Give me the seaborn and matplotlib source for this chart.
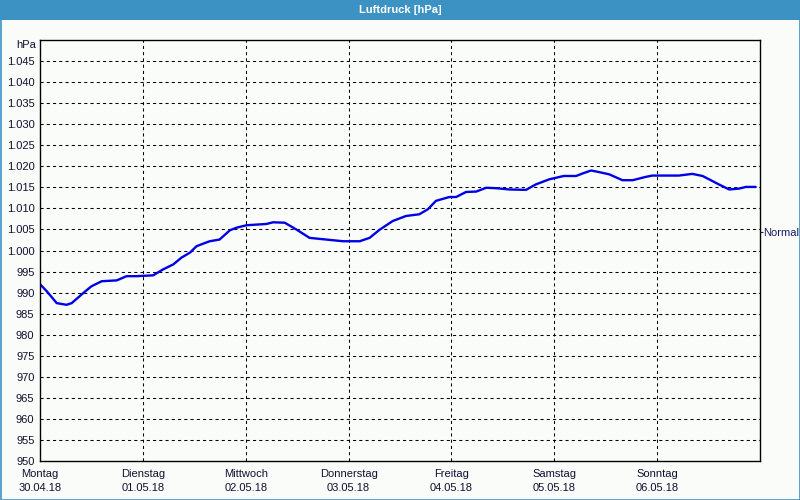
import matplotlib
matplotlib.use("Agg")
import matplotlib.pyplot as plt
import matplotlib.patches as mpatches
import seaborn as sns
import pandas as pd
import numpy as np

# ---- data ----
title = "Luftdruck [hPa]"
day_names = ["Montag", "Dienstag", "Mittwoch", "Donnerstag", "Freitag", "Samstag", "Sonntag"]
day_dates = ["30.04.18", "01.05.18", "02.05.18", "03.05.18", "04.05.18", "05.05.18", "06.05.18"]
hours = [0, 1.6, 3.9, 6.2, 7.4, 10.1, 12.0, 14.4, 17.9, 20.2, 22.5, 26.4, 28.7, 31.1,
         33.0, 35.0, 36.5, 38.0, 39.6, 41.9, 44.3, 45.8, 48.2, 52.8, 54.4, 57.1, 59.8,
         62.9, 66.8, 70.7, 74.6, 76.9, 79.2, 82.3, 85.4, 88.5, 90.5, 92.4, 95.5, 97.1,
         99.4, 101.8, 104.1, 106.4, 109.5, 113.4, 115.7, 118.8, 122.2, 125.1, 126.6,
         128.6, 130.1, 132.8, 135.9, 138.3, 141.4, 142.9, 149.1, 152.2, 154.6, 156.9,
         158.4, 160.8, 163.1, 164.7, 167.0]
pressure = [992.0, 990.3, 987.5, 987.1, 987.5, 989.9, 991.5, 992.7, 992.9, 993.9, 993.9,
            994.1, 995.5, 996.7, 998.3, 999.5, 1001.0, 1001.6, 1002.2, 1002.6, 1004.8,
            1005.4, 1006.0, 1006.3, 1006.7, 1006.6, 1005.0, 1003.0, 1002.6, 1002.2,
            1002.2, 1003.0, 1004.9, 1007.0, 1008.2, 1008.6, 1009.8, 1011.8, 1012.7,
            1012.7, 1013.9, 1014.0, 1014.9, 1014.8, 1014.5, 1014.4, 1015.7, 1016.9,
            1017.7, 1017.7, 1018.3, 1019.0, 1018.7, 1018.1, 1016.7, 1016.7, 1017.5,
            1017.8, 1017.8, 1018.2, 1017.7, 1016.5, 1015.7, 1014.5, 1014.7, 1015.1, 1015.1]
y_ticks = list(range(950, 1050, 5))
normal_value = 1004.3

df = pd.DataFrame({"tage": np.array(hours) / 24.0, "hPa": pressure})

def fmt(v):
    return f"{v:,}".replace(",", ".")

# ---- style ----
sns.set_style("white")
plt.rcParams["font.family"] = ["Liberation Sans", "DejaVu Sans"]
bg = "#FAFCFA"
frame_blue = "#3C93C3"
text_col = "#101030"
fs = 8

fig = plt.figure(figsize=(8, 5), dpi=100, facecolor=bg)
ax = fig.add_axes([40 / 800, 39 / 500, 720 / 800, 421 / 500])
ax.set_facecolor(bg)

sns.lineplot(data=df, x="tage", y="hPa", ax=ax, color="#0000E6", linewidth=1.7)

ax.set_xlim(0, 7)
ax.set_ylim(950, 1050)

# grid
for v in y_ticks[1:]:
    ax.axhline(v, color="black", linewidth=0.75, linestyle=(0, (3, 3)), zorder=0)
for d in range(1, 7):
    ax.axvline(d, color="black", linewidth=0.75, linestyle=(0, (3, 3)), zorder=0)

ax.set_yticks(y_ticks)
ax.set_yticklabels([fmt(v) for v in y_ticks], fontsize=fs, color=text_col)
ax.set_xticks(range(7))
ax.set_xticklabels([f"{n}\n{d}" for n, d in zip(day_names, day_dates)],
                   fontsize=fs, color=text_col, linespacing=1.45)
ax.tick_params(axis="y", length=0, pad=4)
ax.tick_params(axis="x", length=3, pad=3, color="black", width=0.8)
ax.set_xlabel("")
ax.set_ylabel("")

for s in ax.spines.values():
    s.set_color("black")
    s.set_linewidth(1.0)
    s.set_visible(True)

ax.text(-0.0055, 1048.8, "hPa", transform=ax.get_yaxis_transform(), ha="right", va="center",
        fontsize=fs, color=text_col)

# Normal marker on right spine
ax2 = ax.twinx()
ax2.set_ylim(950, 1050)
ax2.set_yticks([normal_value])
ax2.set_yticklabels(["Normal"], fontsize=fs, color="#1a1a60")
ax2.tick_params(axis="y", length=2, pad=0.2, width=0.8)
for s in ax2.spines.values():
    s.set_visible(False)

# title bar and window border
fig.patches.append(mpatches.Rectangle((0, 480 / 500), 1, 20 / 500, transform=fig.transFigure,
                                      facecolor=frame_blue, edgecolor="none", zorder=0))
fig.patches.append(mpatches.Rectangle((0.5 / 800, 0.5 / 500), 799 / 800, 499 / 500,
                                      transform=fig.transFigure, facecolor="none",
                                      edgecolor=frame_blue, linewidth=1.2, zorder=1))
fig.text(0.5, 490 / 500, title, ha="center", va="center", color="white",
         fontsize=fs, fontweight="bold")

fig.savefig("out.png", dpi=100, facecolor=bg)
